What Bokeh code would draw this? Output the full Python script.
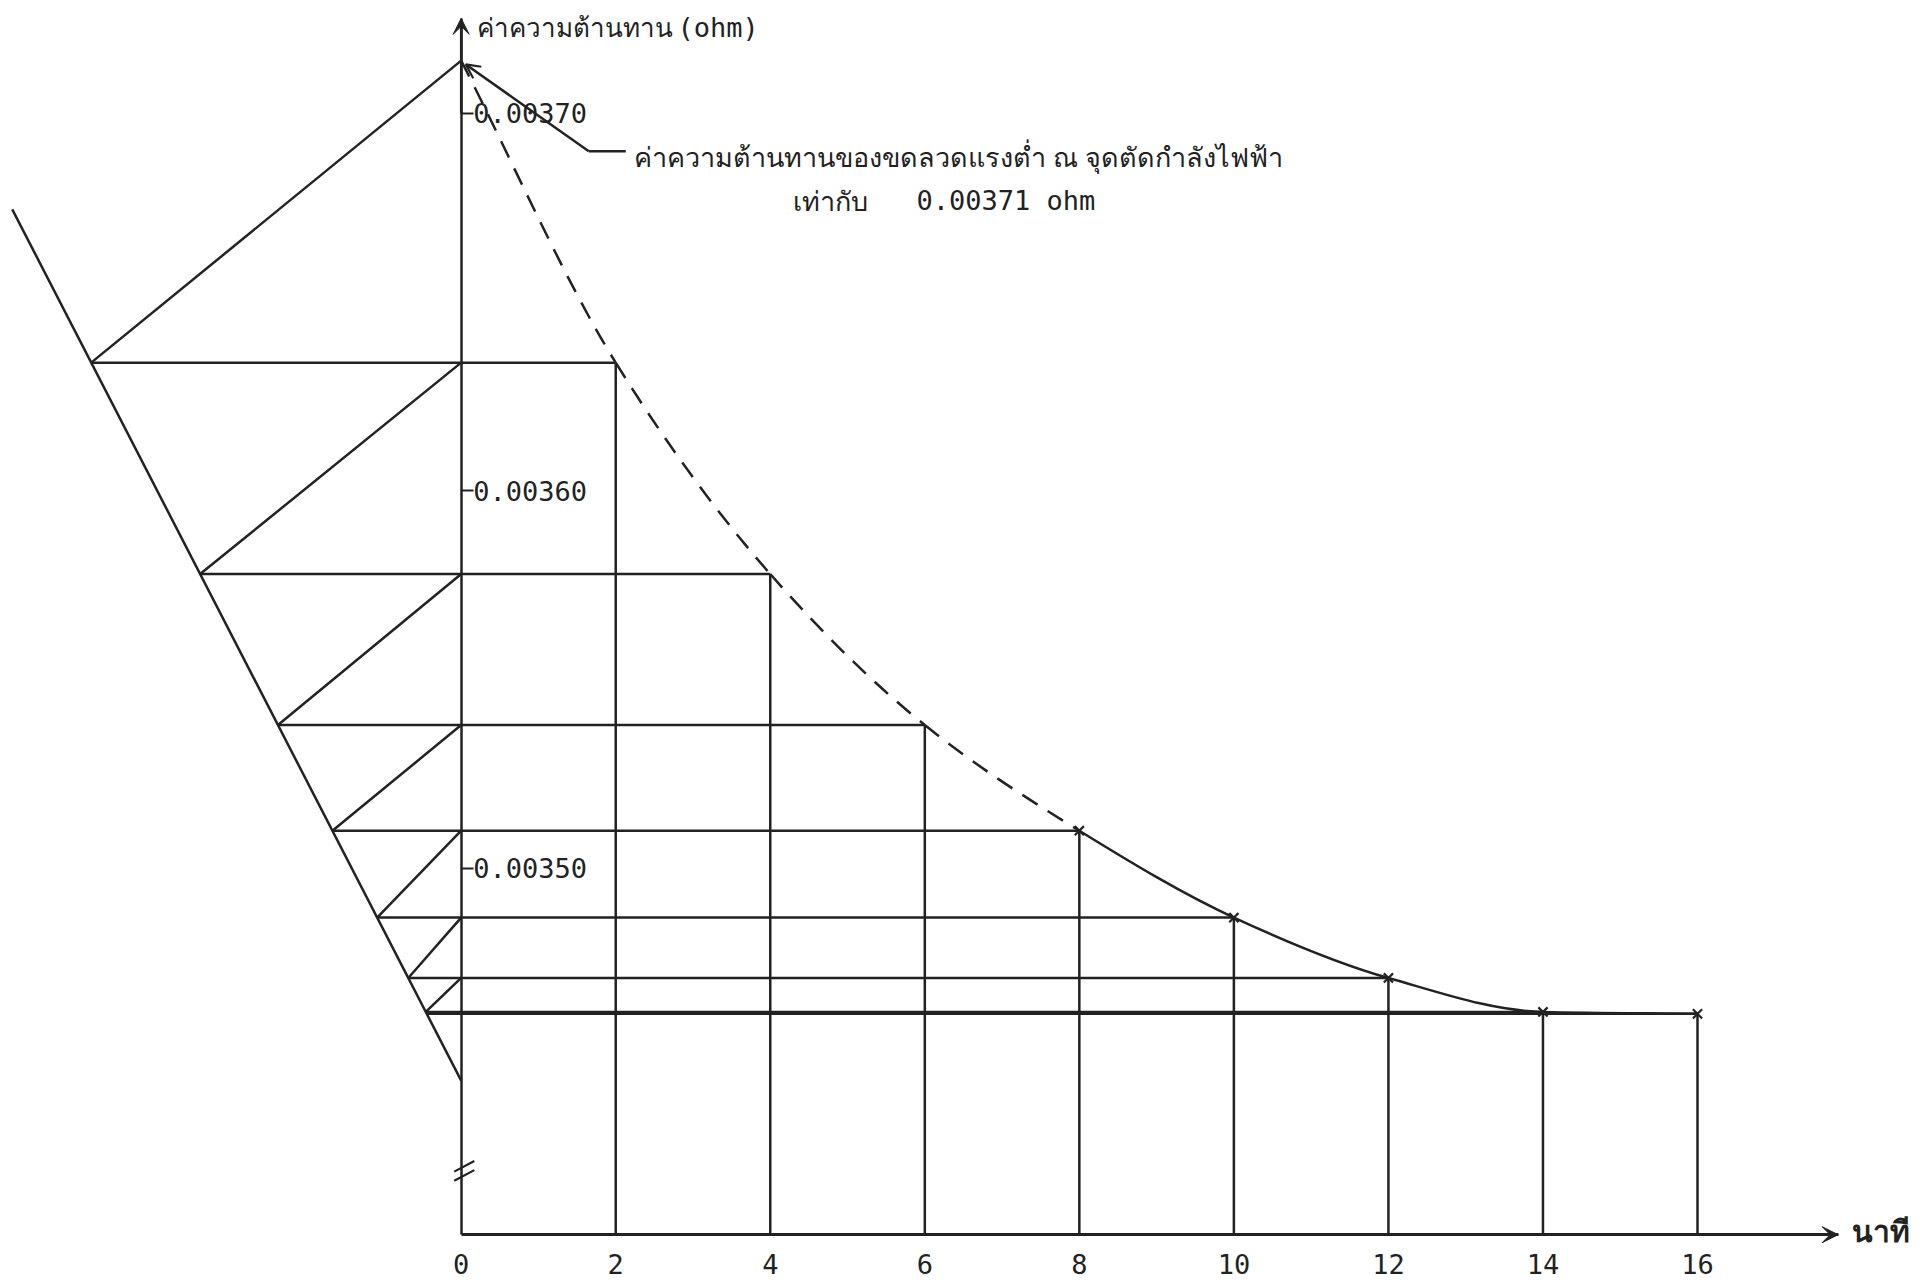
from bokeh.plotting import figure
from bokeh.models import Range1d, LinearAxis, FixedTicker, PrintfTickFormatter, Arrow, VeeHead, OpenHead
from bokeh.core.properties import value
from bokeh.embed import file_html
from bokeh.resources import INLINE

# ---------------- data ----------------
minutes = [0, 2, 4, 6, 8, 10, 12, 14, 16]
resistance = [0.003714, 0.003634, 0.003578, 0.003538, 0.003510,
              0.003487, 0.003471, 0.003462, 0.0034615]
measured_from = 8            # solid curve and x-markers from this minute on
x_ticks = [0, 2, 4, 6, 8, 10, 12, 14, 16]
y_ticks = [0.00350, 0.00360, 0.00370]
guide_x = [-5.81, 0.0]       # slanted construction line (end points)
guide_y = [0.0036746, 0.0034438]
axis_floor = 0.003403        # where the (broken) y axis meets the time axis
axis_top = 0.0037252
x_axis_end = 17.82
break_y = [0.0034211, 0.0034187]

y_title = "ค่าความต้านทาน"
y_unit = "(ohm)"
x_title = "นาที"
note_line1 = "ค่าความต้านทานของขดลวดแรงต่ำ ณ จุดตัดกำลังไฟฟ้า"
note_word = "เท่ากับ"
note_value = "0.00371 ohm"

INK = "#222222"
LW = 2.5
MONO = value("DejaVu Sans Mono")
THAI = value("Noto Sans")

p = figure(width=1920, height=1282,
           x_range=Range1d(-5.962, 18.886), y_range=Range1d(0.00339033, 0.00372993),
           output_backend="svg", toolbar_location=None,
           x_axis_type=None, y_axis_type=None, min_border=0)
p.outline_line_color = None
p.background_fill_color = "white"
p.border_fill_color = "white"

# ---------------- axes ----------------
yaxis = LinearAxis(ticker=FixedTicker(ticks=y_ticks),
                   formatter=PrintfTickFormatter(format="%.5f"),
                   fixed_location=0, bounds=(axis_floor, axis_top))
yaxis.axis_line_color = INK
yaxis.axis_line_width = LW
yaxis.major_tick_out = 12
yaxis.major_tick_in = 0
yaxis.major_tick_line_width = 2
yaxis.major_tick_line_color = INK
yaxis.minor_tick_out = 0
yaxis.minor_tick_in = 0
yaxis.major_label_standoff = 0
yaxis.major_label_text_font = "DejaVu Sans Mono"
yaxis.major_label_text_font_size = "27px"
yaxis.major_label_text_color = INK
p.add_layout(yaxis, "right")

xaxis = LinearAxis(ticker=FixedTicker(ticks=x_ticks),
                   fixed_location=axis_floor, bounds=(0, x_axis_end))
xaxis.axis_line_color = INK
xaxis.axis_line_width = 2.8
xaxis.major_tick_out = 0
xaxis.major_tick_in = 0
xaxis.minor_tick_out = 0
xaxis.minor_tick_in = 0
xaxis.major_label_standoff = 19
xaxis.major_label_text_font = "DejaVu Sans Mono"
xaxis.major_label_text_font_size = "27px"
xaxis.major_label_text_color = INK
p.add_layout(xaxis, "below")

p.add_layout(Arrow(end=VeeHead(size=16, fill_color=INK, line_color=INK, line_width=1),
                   x_start=0, y_start=y_ticks[-1], x_end=0, y_end=axis_top,
                   line_color=INK, line_width=LW))
p.add_layout(Arrow(end=VeeHead(size=16, fill_color=INK, line_color=INK, line_width=1),
                   x_start=x_ticks[-1], y_start=axis_floor, x_end=x_axis_end, y_end=axis_floor,
                   line_color=INK, line_width=2.8))

# axis break marks
p.segment(x0=[-0.09, -0.09], y0=[b - 1.4e-6 for b in break_y],
          x1=[0.17, 0.17], y1=[b + 1.4e-6 for b in break_y],
          line_color=INK, line_width=2.2)

# ---------------- construction ----------------
def guide_at(y):
    return guide_x[0] + (guide_x[1] - guide_x[0]) * (y - guide_y[0]) / (guide_y[1] - guide_y[0])

p.line(guide_x, guide_y, line_color=INK, line_width=LW)

later_t = minutes[1:]
later_r = resistance[1:]
# verticals from each reading down to the time axis
p.segment(x0=later_t, y0=later_r, x1=later_t, y1=[axis_floor] * len(later_t),
          line_color=INK, line_width=LW)
# horizontals from each reading to the slanted line
p.segment(x0=[guide_at(r) for r in later_r], y0=later_r, x1=later_t, y1=later_r,
          line_color=INK, line_width=LW)
# parallels: slanted line at R(n+1) -> axis at R(n)
n_par = 7
p.segment(x0=[guide_at(resistance[i + 1]) for i in range(n_par)],
          y0=[resistance[i + 1] for i in range(n_par)],
          x1=[0] * n_par, y1=[resistance[i] for i in range(n_par)],
          line_color=INK, line_width=LW)

# ---------------- smooth (monotone) curve through the readings ----------------
n = len(minutes)
h = [minutes[i + 1] - minutes[i] for i in range(n - 1)]
sec = [(resistance[i + 1] - resistance[i]) / h[i] for i in range(n - 1)]
tan = [sec[0]] + [0.0] * (n - 2) + [sec[-1]]
for i in range(1, n - 1):
    if sec[i - 1] * sec[i] > 0:
        tan[i] = 2.0 / (1.0 / sec[i - 1] + 1.0 / sec[i])   # harmonic mean: no overshoot
    else:
        tan[i] = 0.0

segs = {"x0": [], "y0": [], "x1": [], "y1": [], "cx0": [], "cy0": [], "cx1": [], "cy1": [], "solid": []}
for i in range(n - 1):
    segs["x0"].append(minutes[i]); segs["y0"].append(resistance[i])
    segs["x1"].append(minutes[i + 1]); segs["y1"].append(resistance[i + 1])
    segs["cx0"].append(minutes[i] + h[i] / 3)
    segs["cy0"].append(resistance[i] + tan[i] * h[i] / 3)
    segs["cx1"].append(minutes[i + 1] - h[i] / 3)
    segs["cy1"].append(resistance[i + 1] - tan[i + 1] * h[i] / 3)
    segs["solid"].append(minutes[i] >= measured_from)

for solid in (False, True):
    idx = [k for k in range(n - 1) if segs["solid"][k] == solid]
    kw = dict(line_color=INK, line_width=LW)
    if not solid:
        kw["line_dash"] = "18 12"
    p.bezier(x0=[segs["x0"][k] for k in idx], y0=[segs["y0"][k] for k in idx],
             x1=[segs["x1"][k] for k in idx], y1=[segs["y1"][k] for k in idx],
             cx0=[segs["cx0"][k] for k in idx], cy0=[segs["cy0"][k] for k in idx],
             cx1=[segs["cx1"][k] for k in idx], cy1=[segs["cy1"][k] for k in idx], **kw)

mt = [t for t in minutes if t >= measured_from]
mr = [r for t, r in zip(minutes, resistance) if t >= measured_from]
p.scatter(mt, mr, marker="x", size=13, line_color=INK, line_width=2.2)

# ---------------- texts ----------------
p.text(x=[0.211], y=[0.0037228], text=[y_title], text_font=THAI, text_font_size="26px",
       text_baseline="middle", text_color=INK)
p.text(x=[2.80], y=[0.0037228], text=[y_unit], text_font=MONO, text_font_size="27px",
       text_baseline="middle", text_color=INK)
p.text(x=[18.00], y=[0.0034040], text=[x_title], text_font=THAI, text_font_size="30px",
       text_font_style="bold", text_baseline="middle", text_color=INK)

p.text(x=[2.234], y=[0.0036887], text=[note_line1], text_font=THAI, text_font_size="27px",
       text_baseline="middle", text_color=INK)
p.text(x=[4.30], y=[0.0036770], text=[note_word], text_font=THAI, text_font_size="27px",
       text_baseline="middle", text_color=INK)
p.text(x=[5.892], y=[0.0036770], text=[note_value], text_font=MONO, text_font_size="27px",
       text_baseline="middle", text_color=INK)

# leader to the extrapolated value
p.line([2.13, 1.651], [0.0036900, 0.0036900], line_color=INK, line_width=LW)
p.add_layout(Arrow(end=OpenHead(size=14, line_color=INK, line_width=2.2),
                   x_start=1.651, y_start=0.0036900, x_end=0.06, y_end=0.003713,
                   line_color=INK, line_width=LW))

open("out.html", "w").write(file_html(p, INLINE))
